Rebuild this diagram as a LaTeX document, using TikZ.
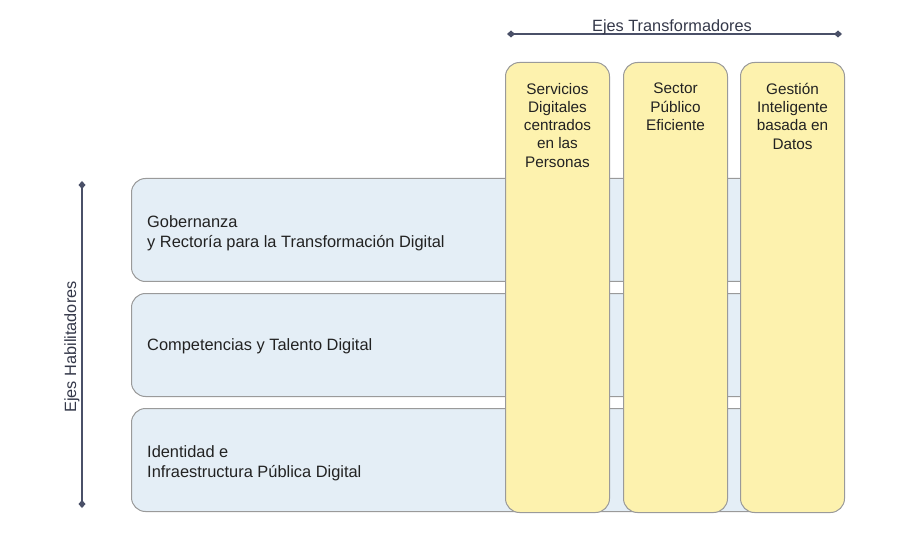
\documentclass[tikz,border=0pt]{standalone}
\usepackage{fontspec}
\setmainfont{Liberation Sans}
\usetikzlibrary{arrows.meta}
\definecolor{rowfill}{HTML}{E4EEF6}
\definecolor{colfill}{HTML}{FDF2AE}
\definecolor{edgegray}{HTML}{9A9A9A}
\definecolor{axisline}{HTML}{4A5068}
\definecolor{txt}{HTML}{222222}
\tikzset{
  rowbox/.style={draw=edgegray, line width=1pt, fill=rowfill, rounded corners=14pt,
    minimum width=711pt, minimum height=103pt, anchor=north west, inner sep=0pt},
  rowtext/.style={anchor=west, align=left, inner sep=0pt, text=txt,
    font=\fontsize{16.4}{20}\selectfont},
  colbox/.style={draw=edgegray, line width=1pt, fill=colfill, rounded corners=14pt,
    minimum width=104pt, minimum height=450pt, anchor=north west, inner sep=0pt},
  coltext/.style={anchor=north, align=center, inner sep=0pt, text=txt,
    font=\fontsize{15.3}{18.2}\selectfont},
  axis/.style={draw=axisline, line width=1.2pt, {Diamond[length=8pt,width=7pt]}-{Diamond[length=8pt,width=7pt]}},
  axislabel/.style={text=axisline!70!black, font=\fontsize{16.3}{18}\selectfont, inner sep=0pt}
}
\begin{document}
\begin{tikzpicture}[x=1pt,y=-1pt]
\useasboundingbox (0,0) rectangle (908,540);
% rows
\node[rowbox] (r1) at (131,178) {};
\node[rowbox] (r2) at (131,293) {};
\node[rowbox] (r3) at (131,408) {};
\node[rowtext] (r1t) at ([xshift=16pt,yshift=-3pt]r1.west) {Gobernanza\\y Rectoría para la Transformación Digital};
\node[rowtext] (r2t) at ([xshift=16pt,yshift=-1pt]r2.west) {Competencias y Talento Digital};
\node[rowtext] (r3t) at ([xshift=16pt,yshift=-3pt]r3.west) {Identidad e\\Infraestructura Pública Digital};
% columns
\node[colbox] (c1) at (505,62) {};
\node[colbox] (c2) at (623,62) {};
\node[colbox] (c3) at (740,62) {};
\node[coltext] (t1) at ([yshift=-21pt]c1.north) {Servicios\\Digitales\\centrados\\en las\\Personas};
\node[coltext] (t2) at ([yshift=-21pt]c2.north) {Sector\\Público\\Eficiente};
\node[coltext] (t3) at ([yshift=-21pt]c3.north) {Gestión\\Inteligente\\basada en\\Datos};
% top axis
\coordinate (ta) at (507,34);
\coordinate (tb) at (842,34);
\draw[axis] (ta) -- (tb);
\node[axislabel] (tl) at (672,27) {Ejes Transformadores};
% left axis
\coordinate (la) at (82,181);
\coordinate (lb) at (82,508);
\draw[axis] (la) -- (lb);
\node[axislabel, rotate=90] (ll) at (72,347) {Ejes Habilitadores};
\end{tikzpicture}
\end{document}
